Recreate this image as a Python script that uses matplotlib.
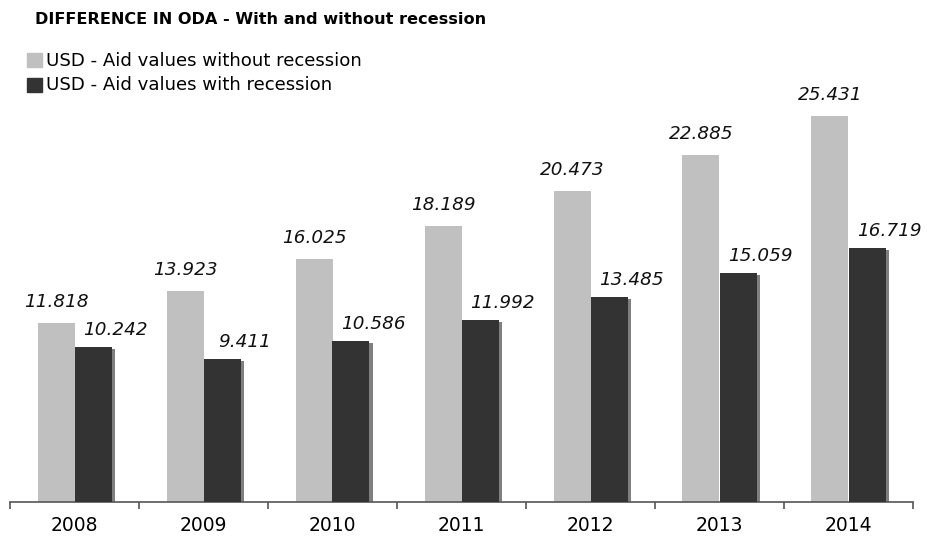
import matplotlib.pyplot as plt
import numpy as np
from matplotlib.patches import Rectangle

# Datos del grafico
anios = ['2008', '2009', '2010', '2011', '2012', '2013', '2014']
sin_recesion = [11.818, 13.923, 16.025, 18.189, 20.473, 22.885, 25.431]
con_recesion = [10.242, 9.411, 10.586, 11.992, 13.485, 15.059, 16.719]
etiquetas = ['USD - Aid values without recession', 'USD - Aid values with recession']

gris_claro = '#c0c0c0'
gris_oscuro = '#333333'
sombra = '#7f7f7f'

W, H = 932, 544
fig = plt.figure(figsize=(W / 100, H / 100), dpi=100)
ax = fig.add_axes([10 / W, (H - 502) / H, 903 / W, 402 / H])

x = np.arange(len(anios))
ancho = 37 / 129

# Barras claras (sin recesion) y oscuras (con recesion) con sombra
ax.bar(x - ancho / 2, sin_recesion, ancho, color=gris_claro, zorder=2)
ax.bar(x + ancho / 2 + 3 / 129, np.array(con_recesion) - 2 / 15.18, ancho,
       color=sombra, zorder=2)
ax.bar(x + ancho / 2, con_recesion, ancho, color=gris_oscuro, zorder=3)

# Etiquetas de valores
for i in range(len(anios)):
    ax.annotate(f'{sin_recesion[i]:.3f}', (x[i] - ancho / 2, sin_recesion[i]),
                xytext=(0, 11.5), textcoords='offset points', ha='center',
                va='baseline', fontsize=13.2, style='italic', color='#111111')
    ax.annotate(f'{con_recesion[i]:.3f}', (x[i] + ancho / 2, con_recesion[i]),
                xytext=(16, 8.6), textcoords='offset points', ha='center',
                va='baseline', fontsize=13.2, style='italic', color='#111111')

ax.set_xlim(-0.5, len(anios) - 0.5)
ax.set_ylim(0, 402 / 15.18)

# Ejes
for s in ['top', 'right', 'left']:
    ax.spines[s].set_visible(False)
ax.spines['bottom'].set_color('#555555')
ax.spines['bottom'].set_linewidth(1.2)
ax.set_yticks([])
ax.set_xticks(np.arange(len(anios) + 1) - 0.5)
ax.set_xticklabels([])
ax.tick_params(axis='x', which='major', direction='out', length=5, width=1.2, color='#555555')
ax.set_xticks(x, minor=True)
ax.set_xticklabels(anios, minor=True, fontsize=13.5)
ax.tick_params(axis='x', which='minor', length=0, pad=10)

# Titulo
fig.text(35 / W, 1 - 19.5 / H, 'DIFFERENCE IN ODA - With and without recession',
         fontsize=11.6, fontweight='bold', va='center', ha='left')

# Leyenda manual
colores = [gris_claro, gris_oscuro]
for j in range(2):
    y0 = 53 + 25 * j
    fig.patches.append(Rectangle((27 / W, 1 - (y0 + 14) / H), 15 / W, 14 / H,
                                 transform=fig.transFigure, color=colores[j]))
    fig.text(46 / W, 1 - (y0 + 7.5) / H, etiquetas[j], fontsize=13.1,
             va='center', ha='left')

fig.savefig('out.png', dpi=100)
